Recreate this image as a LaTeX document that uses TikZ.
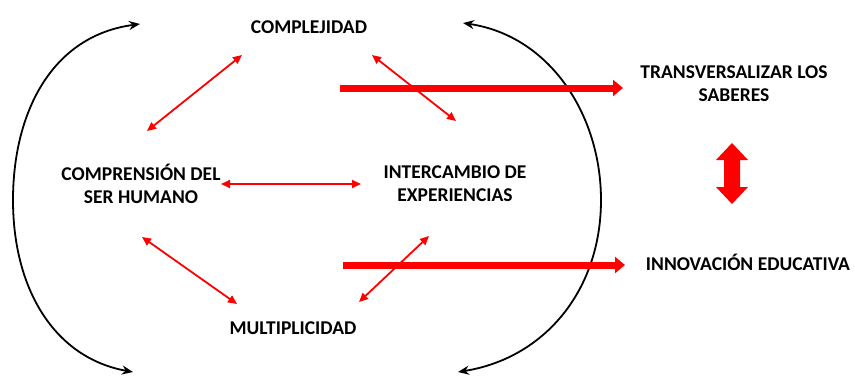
\documentclass[tikz,border=0pt]{standalone}
\usepackage{fontspec}
\setmainfont{Carlito}
\usetikzlibrary{arrows.meta}
\tikzset{
  lbl/.style={font=\bfseries\fontsize{19.5}{23}\selectfont, align=center, inner sep=0pt},
  thin/.style={red, line width=1.8pt, {Triangle[length=9pt,width=8pt]}-{Triangle[length=9pt,width=8pt]}},
  thick/.style={red, line width=7pt, -{Triangle[length=10pt,width=16pt]}},
  arc/.style={black, line width=1.8pt, {Stealth[length=11pt,width=9pt]}-{Stealth[length=11pt,width=9pt]}}
}
\begin{document}
\begin{tikzpicture}[x=1pt,y=-1pt]
\useasboundingbox (0,0) rectangle (855,376);
\node[lbl] (compl) at (309,27) {COMPLEJIDAD};
\node[lbl] (compr) at (141,184) {COMPRENSIÓN DEL\\SER HUMANO};
\node[lbl] (inter) at (455,184) {INTERCAMBIO DE\\EXPERIENCIAS};
\node[lbl] (multi) at (293,328) {MULTIPLICIDAD};
\node[lbl] (trans) at (734,84) {TRANSVERSALIZAR LOS\\SABERES};
\node[lbl] (innov) at (748,262) {INNOVACIÓN EDUCATIVA};
% arc end points
\coordinate (la) at (140,24);
\coordinate (lb) at (133,372);
\coordinate (ra) at (463,23);
\coordinate (rb) at (458,372);
\draw[arc] (la) .. controls (50,36) and (13,115) .. (13,200) .. controls (13,290) and (55,358) .. (lb);
\draw[arc] (ra) .. controls (550,36) and (601,115) .. (601,200) .. controls (601,290) and (545,358) .. (rb);
% thin arrows
\coordinate (a1) at (242,55);  \coordinate (a2) at (147,131);
\coordinate (b1) at (221,184); \coordinate (b2) at (361,184);
\coordinate (c1) at (142,237); \coordinate (c2) at (237,304);
\coordinate (d1) at (372,55);  \coordinate (d2) at (456,121);
\coordinate (e1) at (359,302); \coordinate (e2) at (429,236);
\draw[thin] (a1) -- (a2);
\draw[thin] (b1) -- (b2);
\draw[thin] (c1) -- (c2);
\draw[thin] (d1) -- (d2);
\draw[thin] (e1) -- (e2);
% thick arrows
\coordinate (t1) at (340,88);  \coordinate (t2) at (623,88);
\coordinate (u1) at (343,265); \coordinate (u2) at (625,265);
\draw[thick] (t1) -- (t2);
\draw[thick] (u1) -- (u2);
% vertical double arrow
\fill[red] (732,143) -- (748,160) -- (740,160) -- (740,187) -- (748,187) -- (732,204)
  -- (716,187) -- (724,187) -- (724,160) -- (716,160) -- cycle;
\end{tikzpicture}
\end{document}
